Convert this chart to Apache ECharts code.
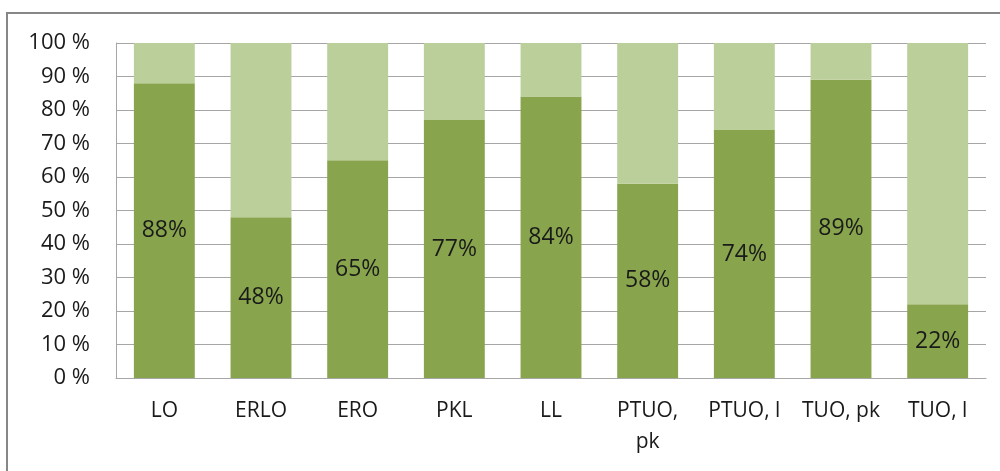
<!DOCTYPE html>
<html><head><meta charset="utf-8">
<script src="https://cdn.jsdelivr.net/npm/echarts@6/dist/echarts.min.js"></script>
<style>html,body{margin:0;padding:0;background:#fff}#c{width:1000px;height:471px}</style>
</head><body><div id="c"></div>
<script>
const categories = ['LO', 'ERLO', 'ERO', 'PKL', 'LL', 'PTUO, pk', 'PTUO, l', 'TUO, pk', 'TUO, l'];
const shareValues = [88, 48, 65, 77, 84, 58, 74, 89, 22];
const yTicks = [0, 10, 20, 30, 40, 50, 60, 70, 80, 90, 100];
const restValues = shareValues.map(v => 100 - v);

const FONT = '"Open Sans", "Noto Sans", sans-serif';
const chart = echarts.init(document.getElementById('c'));
chart.setOption({
  animation: false,
  backgroundColor: '#fff',
  graphic: [{
    type: 'rect', shape: { x: 7, y: 13, width: 1010, height: 480 },
    style: { fill: 'none', stroke: '#878787', lineWidth: 2 }, silent: true, z: -1
  }],
  grid: { left: 116, right: 14, top: 43, bottom: 93, containLabel: false },
  xAxis: {
    type: 'category', data: categories,
    axisLine: { show: true, lineStyle: { color: '#a6a6a6', width: 1 } },
    axisTick: { show: false },
    axisLabel: {
      interval: 0, hideOverlap: false,
      color: '#1a1a1a', fontFamily: FONT, fontSize: 21, margin: 18, lineHeight: 31,
      formatter: v => v === 'PTUO, pk' ? 'PTUO,\npk' : v
    }
  },
  yAxis: {
    type: 'value', min: 0, max: 100, interval: 10,
    axisLine: { show: true, lineStyle: { color: '#a6a6a6', width: 1 } },
    axisTick: { show: false },
    splitLine: { show: true, lineStyle: { color: '#a6a6a6', width: 1 } },
    axisLabel: {
      color: '#1a1a1a', fontFamily: FONT, fontSize: 22, margin: 26,
      formatter: v => yTicks.includes(v) ? v + ' %' : ''
    }
  },
  series: [{
    type: 'bar', stack: 's', data: shareValues, barWidth: '63%',
    itemStyle: { color: '#88a44d' },
    label: {
      show: true, position: 'inside', formatter: p => p.value + '%',
      color: '#1a1a1a', fontFamily: FONT, fontSize: 23
    }
  }, {
    type: 'bar', stack: 's', data: restValues, barWidth: '63%',
    itemStyle: { color: '#bbcf9a' }
  }]
});
</script></body></html>
